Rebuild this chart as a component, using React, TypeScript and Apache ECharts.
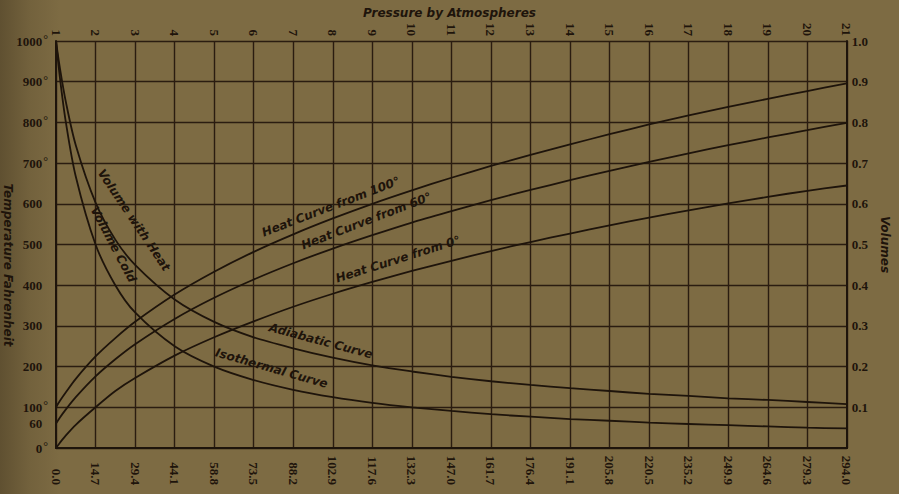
import React, { useEffect, useRef } from "react";
import * as echarts from "echarts";

const pressures = [1, 1.1, 1.25, 1.5, 2, 2.5, 3, 4, 5, 6, 7, 8, 9, 10, 11, 12, 13, 14, 15, 16, 17, 18, 19, 20, 21];
const heatFrom0 = [0, 13, 31, 57, 100, 140, 172, 227, 272, 311, 347, 379, 408, 435, 460, 484, 506, 527, 547, 566, 584, 601, 617, 632, 645];
const heatFrom60 = [60, 75, 95, 125, 176, 218, 255, 317, 369, 414, 454, 490, 523, 554, 582, 609, 634, 658, 681, 703, 724, 744, 763, 781, 799];
const heatFrom100 = [100, 116, 137, 170, 225, 270, 310, 377, 433, 482, 525, 564, 600, 633, 664, 693, 720, 746, 771, 795, 817, 838, 858, 877, 896];
const volumeCold = [1.0, 0.909, 0.8, 0.667, 0.5, 0.4, 0.333, 0.25, 0.2, 0.167, 0.143, 0.125, 0.111, 0.1, 0.091, 0.083, 0.077, 0.071, 0.067, 0.0625, 0.059, 0.056, 0.053, 0.05, 0.048];
const volumeHeat = [1.0, 0.933, 0.85, 0.744, 0.603, 0.512, 0.45, 0.365, 0.31, 0.272, 0.245, 0.222, 0.203, 0.188, 0.175, 0.164, 0.155, 0.147, 0.14, 0.133, 0.128, 0.122, 0.118, 0.113, 0.108];

const topLabels = ["1", "2", "3", "4", "5", "6", "7", "8", "9", "10", "11", "12", "13", "14", "15", "16", "17", "18", "19", "20", "21"];
const bottomLabels = ["0.0", "14.7", "29.4", "44.1", "58.8", "73.5", "88.2", "102.9", "117.6", "132.3", "147.0", "161.7", "176.4", "191.1", "205.8", "220.5", "235.2", "249.9", "264.6", "279.3", "294.0"];
const tempTicks = [0, 60, 100, 200, 300, 400, 500, 600, 700, 800, 900, 1000];
const tempDegree = [0, 100, 700, 800, 900, 1000];
const volumeTicks = [0.1, 0.2, 0.3, 0.4, 0.5, 0.6, 0.7, 0.8, 0.9, 1.0];

const INK = "#1e140b";
const GRID = "#2a1c10";
const BG = "#7d6b43";
const SERIF = "'Liberation Serif', 'DejaVu Serif', serif";
const SANS = "'DejaVu Sans', 'Liberation Sans', sans-serif";

function pairs(ys: number[]) {
  return pressures.map((p, i) => [p, ys[i]]);
}

function curveLabel(text: string, coord: number[], rotate: number) {
  return {
    coord,
    label: {
      show: true,
      position: "inside",
      formatter: text,
      rotate,
      color: INK,
      fontFamily: SANS,
      fontWeight: "bold",
      fontStyle: "italic",
      fontSize: 12,
    },
  };
}

function marks(...items: any[]) {
  return { symbol: "circle", symbolSize: 0, data: items };
}

export default function App() {
  const ref = useRef<HTMLDivElement>(null);
  useEffect(() => {
    if (!ref.current) return;
    const chart = echarts.init(ref.current, null, { renderer: "svg" });
    const lineStyle = { color: INK, width: 1.8 };
    const baseSeries = {
      type: "line",
      showSymbol: false,
      symbol: "none",
      smooth: 0.3,
      lineStyle,
      z: 5,
    };
    chart.setOption({
      animation: false,
      backgroundColor: BG,
      grid: { left: 56, right: 42, top: 41, bottom: 46, containLabel: false },
      xAxis: [
        {
          type: "value",
          position: "bottom",
          min: 1,
          max: 21,
          interval: 1,
          axisLine: { show: true, lineStyle: { color: INK, width: 2 } },
          axisTick: { show: false },
          splitLine: { show: true, lineStyle: { color: GRID, width: 1.4 } },
          axisLabel: {
            rotate: -90,
            align: "right",
            margin: 37,
            color: INK,
            fontFamily: SERIF,
            fontWeight: "bold",
            fontSize: 13,
            formatter: (v: number) => bottomLabels[Math.round(v) - 1] ?? "",
          },
        },
        {
          type: "value",
          position: "top",
          min: 1,
          max: 21,
          interval: 1,
          axisLine: { show: true, lineStyle: { color: INK, width: 2 } },
          axisTick: { show: false },
          splitLine: { show: false },
          axisLabel: {
            rotate: -90,
            margin: 5,
            color: INK,
            fontFamily: SERIF,
            fontWeight: "bold",
            fontSize: 13,
            formatter: (v: number) => topLabels[Math.round(v) - 1] ?? "",
          },
        },
      ],
      yAxis: [
        {
          type: "value",
          position: "left",
          min: 0,
          max: 1000,
          interval: 100,
          axisLine: { show: true, lineStyle: { color: INK, width: 2 } },
          axisTick: { show: false },
          splitLine: { show: true, lineStyle: { color: GRID, width: 1.4 } },
          axisLabel: {
            customValues: tempTicks,
            margin: 8,
            formatter: (v: number) =>
              tempDegree.indexOf(v) >= 0 ? `{n|${v}}{d|°}` : `{n|${v}}{h|°}`,
            rich: {
              n: { color: INK, fontFamily: SERIF, fontWeight: "bold", fontSize: 13, lineHeight: 16 },
              d: { color: INK, fontFamily: SERIF, fontSize: 12, verticalAlign: "top", lineHeight: 16, padding: [0, 0, 6, 1] },
              h: { color: "rgba(0,0,0,0)", fontFamily: SERIF, fontSize: 12, verticalAlign: "top", lineHeight: 16, padding: [0, 0, 6, 1] },
            },
          },
        },
        {
          type: "value",
          position: "right",
          min: 0,
          max: 1,
          interval: 0.1,
          name: "Volumes",
          nameLocation: "middle",
          nameRotate: -90,
          nameGap: 26,
          nameTextStyle: { color: INK, fontFamily: SANS, fontWeight: "bold", fontStyle: "italic", fontSize: 12 },
          axisLine: { show: true, lineStyle: { color: INK, width: 2 } },
          axisTick: { show: false },
          splitLine: { show: false },
          axisLabel: {
            customValues: volumeTicks,
            margin: 5,
            color: INK,
            fontFamily: SERIF,
            fontWeight: "bold",
            fontSize: 13,
            formatter: (v: number) => v.toFixed(1),
          },
        },
      ],
      graphic: [
        {
          type: "rect",
          z: -100,
          silent: true,
          shape: { x: 0, y: 0, width: 60, height: 494 },
          style: {
            fill: new echarts.graphic.LinearGradient(0, 0, 1, 0, [
              { offset: 0, color: "rgba(40,30,15,0.35)" },
              { offset: 0.5, color: "rgba(40,30,15,0.12)" },
              { offset: 1, color: "rgba(40,30,15,0)" },
            ]),
          },
        },
        {
          type: "text",
          left: "center",
          top: 7,
          style: {
            text: "Pressure by Atmospheres",
            fill: INK,
            font: `italic bold 12px ${SANS}`,
          },
        },
        {
          type: "text",
          x: 8,
          y: 265,
          rotation: -Math.PI / 2,
          style: {
            text: "Temperature Fahrenheit",
            fill: INK,
            font: `italic bold 12px ${SANS}`,
            align: "center",
            verticalAlign: "middle",
          },
        },
      ],
      series: [
        { ...baseSeries, name: "Heat Curve from 100°", xAxisIndex: 0, yAxisIndex: 0, data: pairs(heatFrom100), markPoint: marks(curveLabel("Heat Curve from 100°", [7.95, 593], 21)) },
        { ...baseSeries, name: "Heat Curve from 60°", xAxisIndex: 0, yAxisIndex: 0, data: pairs(heatFrom60), markPoint: marks(curveLabel("Heat Curve from 60°", [8.85, 558], 21)) },
        { ...baseSeries, name: "Heat Curve from 0°", xAxisIndex: 0, yAxisIndex: 0, data: pairs(heatFrom0), markPoint: marks(curveLabel("Heat Curve from 0°", [9.65, 464], 17.5)) },
        { ...baseSeries, name: "Volume with Heat", xAxisIndex: 0, yAxisIndex: 1, data: pairs(volumeHeat), markPoint: marks(curveLabel("Volume with Heat", [2.97, 0.56], -56), curveLabel("Adiabatic Curve", [7.7, 0.263], -15)) },
        { ...baseSeries, name: "Volume Cold", xAxisIndex: 0, yAxisIndex: 1, data: pairs(volumeCold), markPoint: marks(curveLabel("Volume Cold", [2.45, 0.5], -62), curveLabel("Isothermal Curve", [6.45, 0.196], -16)) },
      ],
    });
    return () => chart.dispose();
  }, []);
  return <div ref={ref} style={{ position: "fixed", left: 0, top: 0, width: 899, height: 494 }} />;
}
